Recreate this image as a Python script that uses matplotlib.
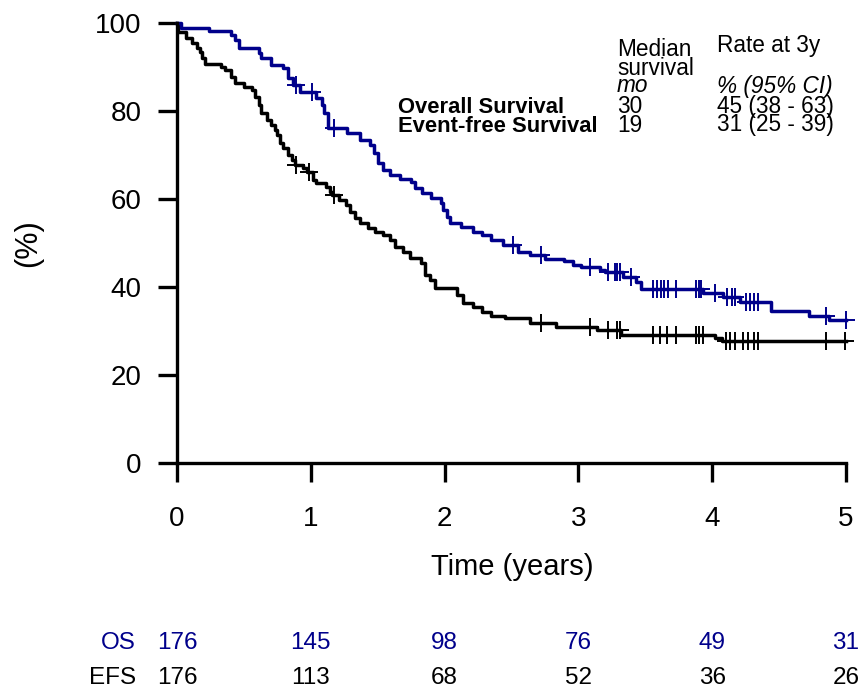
import numpy as np
from matplotlib import pyplot as plt

plt.rcParams['font.family'] = ['Liberation Sans', 'DejaVu Sans']

# Overall survival step curve (years, %)
os_t = [0, 0.03, 0.24, 0.40, 0.43, 0.46, 0.61, 0.63, 0.70, 0.79, 0.83, 0.87, 0.92,
        1.04, 1.08, 1.10, 1.13, 1.27, 1.37, 1.44, 1.47, 1.50, 1.54, 1.59, 1.67,
        1.75, 1.78, 1.83, 1.90, 1.97, 1.99, 2.02, 2.04, 2.12, 2.21, 2.28, 2.35,
        2.44, 2.55, 2.64, 2.75, 2.89, 2.96, 3.02, 3.16, 3.20, 3.33, 3.43, 3.47,
        3.93, 4.08, 4.21, 4.44, 4.72, 4.87, 5.0]
os_s = [100, 98.9, 98.2, 97.2, 96.1, 94.3, 93.2, 92.0, 90.5, 89.8, 87.5, 85.9, 84.3,
        83.0, 81.4, 79.5, 76.1, 74.9, 73.4, 72.3, 70.5, 68.2, 66.6, 65.5, 64.5,
        63.9, 62.4, 61.3, 60.2, 59.0, 57.5, 56.0, 54.6, 53.7, 52.6, 51.8, 50.7,
        49.5, 48.0, 47.3, 46.3, 45.8, 45.0, 44.5, 43.9, 43.3, 42.3, 41.2, 39.5,
        38.7, 37.8, 36.7, 34.6, 33.4, 32.5, 32.5]
os_cens = [0.89, 1.01, 1.17, 2.51, 2.72, 3.09, 3.22, 3.27, 3.29, 3.31, 3.39,
           3.56, 3.59, 3.62, 3.64, 3.67, 3.73, 3.88, 3.90, 3.92, 4.02, 4.11,
           4.15, 4.17, 4.25, 4.28, 4.31, 4.34, 4.85, 5.0]

# Event-free survival step curve
efs_t = [0, 0.01, 0.07, 0.11, 0.15, 0.17, 0.19, 0.21, 0.33, 0.36, 0.40, 0.43, 0.50,
         0.56, 0.58, 0.61, 0.63, 0.67, 0.70, 0.73, 0.75, 0.77, 0.79, 0.83, 0.86,
         0.88, 0.94, 0.97, 1.02, 1.04, 1.11, 1.14, 1.16, 1.21, 1.26, 1.29, 1.33,
         1.37, 1.43, 1.48, 1.54, 1.59, 1.63, 1.69, 1.74, 1.82, 1.85, 1.89, 1.93,
         2.09, 2.14, 2.21, 2.28, 2.35, 2.45, 2.64, 2.83, 3.14, 3.32, 4.02, 4.07, 5.0]
efs_s = [100, 98.0, 96.6, 95.5, 94.3, 93.5, 92.0, 90.6, 90.1, 89.3, 87.8, 86.3, 85.5,
         84.8, 83.2, 81.4, 79.5, 78.0, 76.8, 75.6, 74.5, 72.7, 71.5, 70.0, 68.9,
         67.7, 67.0, 66.2, 64.3, 63.6, 62.7, 61.7, 60.9, 59.8, 58.6, 57.1, 55.6,
         54.6, 53.4, 52.5, 51.8, 50.7, 49.1, 48.0, 46.6, 45.5, 42.7, 41.6, 39.7,
         38.2, 36.3, 35.5, 34.4, 33.3, 32.9, 31.8, 31.0, 30.2, 29.1, 28.4, 27.7, 27.7]
efs_cens = [0.89, 0.99, 1.17, 2.72, 3.09, 3.22, 3.29, 3.31, 3.56, 3.61, 3.66, 3.73,
            3.88, 3.90, 3.93, 4.10, 4.13, 4.17, 4.23, 4.27, 4.31, 4.34, 4.85, 4.99]

risk_years = [0, 1, 2, 3, 4, 5]
os_risk = [176, 145, 98, 76, 49, 31]
efs_risk = [176, 113, 68, 52, 36, 26]

blue = '#00008B'
W, H = 860, 688


def at(t, s, c):
    i = np.searchsorted(t, c, side='right') - 1
    return np.array(s)[i]


def fx(px):
    return px / W


def fy(py):
    return 1 - py / H


fig = plt.figure(figsize=(8.6, 6.88), dpi=100)
ax = fig.add_axes([fx(177), fy(463), fx(846) - fx(177), fy(23) - fy(463)])

# curves
ax.plot(efs_t, efs_s, color='black', lw=2.5, drawstyle='steps-post', clip_on=False)
ax.plot(os_t, os_s, color=blue, lw=2.5, drawstyle='steps-post', clip_on=False)
ax.plot(efs_cens, at(efs_t, efs_s, efs_cens), ls='none', marker='+', ms=13,
        mew=1.4, color='black', clip_on=False)
ax.plot(os_cens, at(os_t, os_s, os_cens), ls='none', marker='+', ms=13,
        mew=1.4, color=blue, clip_on=False)

ax.set_xlim(0, 5)
ax.set_ylim(0, 100)
ax.set_xticks(range(6))
ax.set_yticks(range(0, 101, 20))
for side in ['top', 'right']:
    ax.spines[side].set_visible(False)
for side in ['left', 'bottom']:
    ax.spines[side].set_linewidth(2.4)
ax.tick_params(length=13.7, width=2.4, labelsize=20)
ax.tick_params(axis='x', pad=17)
ax.tick_params(axis='y', pad=12)

fig.text(fx(512), fy(567), 'Time (years)', fontsize=21, ha='center', va='center')
fig.text(fx(28), fy(243), '(%)', fontsize=22, rotation=90, ha='center', va='center')

# legend-like table
fs = 16.3
fb = 15.8
fig.text(fx(617), fy(56), 'Median', fontsize=fs, va='baseline')
fig.text(fx(617), fy(75), 'survival', fontsize=fs, va='baseline')
fig.text(fx(617), fy(92.5), 'mo', fontsize=fs, style='italic', va='baseline')
fig.text(fx(717), fy(52), 'Rate at 3y', fontsize=fs, va='baseline')
fig.text(fx(717), fy(92.5), '% (95% CI)', fontsize=fs, style='italic', va='baseline')
fig.text(fx(398), fy(113), 'Overall Survival', fontsize=fb, weight='bold', va='baseline')
fig.text(fx(398), fy(131.5), 'Event-free Survival', fontsize=fb, weight='bold', va='baseline')
fig.text(fx(617), fy(113), '30', fontsize=fs, va='baseline')
fig.text(fx(617), fy(131.5), '19', fontsize=fs, va='baseline')
fig.text(fx(717), fy(113), '45 (38 - 63)', fontsize=fs, va='baseline')
fig.text(fx(717), fy(131.5), '31 (25 - 39)', fontsize=fs, va='baseline')

# numbers at risk
tr = ax.get_xaxis_transform()
y_os = (463 - 643) / 440
y_efs = (463 - 678) / 440
fig.text(fx(136), fy(643), 'OS', fontsize=17.5, color=blue, ha='right', va='center')
fig.text(fx(136), fy(678), 'EFS', fontsize=17.5, ha='right', va='center')
for yr, n1, n2 in zip(risk_years, os_risk, efs_risk):
    ax.text(yr, y_os, str(n1), transform=tr, fontsize=17.5, color=blue,
            ha='center', va='center', clip_on=False)
    ax.text(yr, y_efs, str(n2), transform=tr, fontsize=17.5,
            ha='center', va='center', clip_on=False)

plt.savefig('out.png', dpi=100)
